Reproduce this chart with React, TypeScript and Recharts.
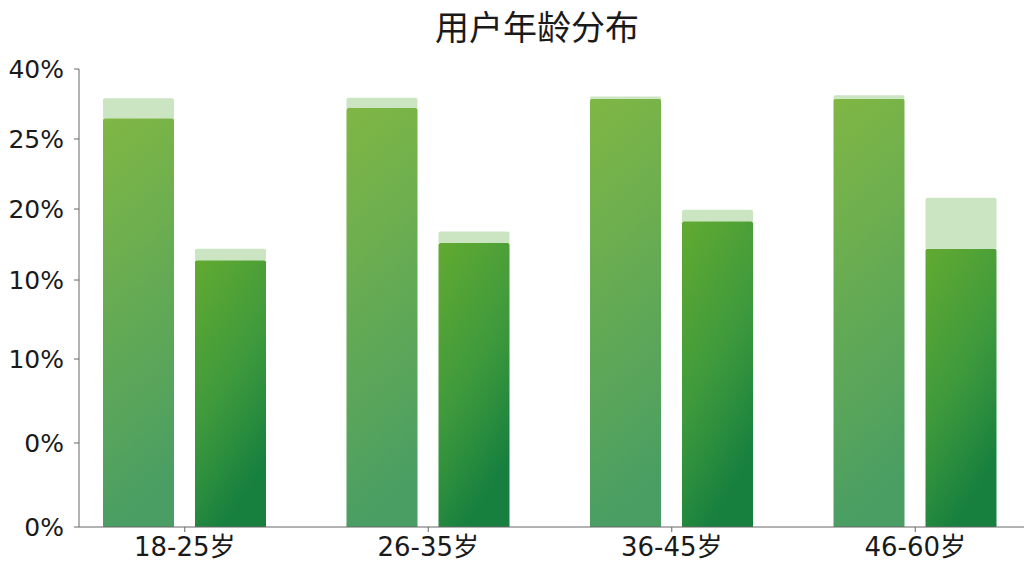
import { BarChart, Bar, XAxis, YAxis } from "recharts";

document.body.style.margin = "0";

// values are in the axis's own linear units (0-40)
const ageGroups = ["18-25岁", "26-35岁", "36-45岁", "46-60岁"];
const firstBase = [35.7, 36.6, 37.4, 37.4];
const firstCap = [1.75, 0.9, 0.2, 0.3];
const secondBase = [23.3, 24.8, 26.7, 24.3];
const secondCap = [1.0, 1.0, 1.0, 4.45];

// the reference labels its y ticks unevenly, so positions and labels are kept apart
const yTickPos = [0, 7.34, 14.67, 21.57, 27.77, 33.89, 40];
const yTickLabels = ["0%", "0%", "10%", "10%", "20%", "25%", "40%"];

const data = ageGroups.map((name, i) => ({
  name,
  aBase: firstBase[i],
  aCap: firstCap[i],
  bBase: secondBase[i],
  bCap: secondCap[i],
}));

const font = '"DejaVu Sans", "Noto Sans CJK SC", sans-serif';

export default function App() {
  return (
    <div style={{ position: "relative", width: 1024, height: 576, background: "#fff" }}>
      <div
        style={{
          position: "absolute",
          top: 2,
          left: 0,
          width: 1074,
          textAlign: "center",
          fontFamily: '"Noto Sans CJK SC", sans-serif',
          fontSize: 34,
          lineHeight: "48px",
          color: "#1a1a1a",
        }}
      >
        用户年龄分布
      </div>
      <BarChart
        width={1024}
        height={576}
        data={data}
        margin={{ top: 69, right: 0, bottom: 0, left: 0 }}
        barGap={21}
        barSize={71}
      >
        <defs>
          <linearGradient id="gradA" x1="0" y1="0" x2="0.15" y2="1">
            <stop offset="0%" stopColor="#80b744" />
            <stop offset="100%" stopColor="#4a9e63" />
          </linearGradient>
          <linearGradient id="gradB" x1="0" y1="0" x2="0.4" y2="1">
            <stop offset="0%" stopColor="#62aa31" />
            <stop offset="55%" stopColor="#3f9a3c" />
            <stop offset="100%" stopColor="#17803f" />
          </linearGradient>
        </defs>
        <XAxis
          dataKey="name"
          height={49}
          padding={{ left: -16, right: -13 }}
          axisLine={{ stroke: "#666" }}
          tickLine={{ stroke: "#666" }}
          tickSize={5}
          tickMargin={6}
          tick={{ fill: "#1a1a1a", fontSize: 26, fontFamily: font }}
        />
        <YAxis
          type="number"
          width={79}
          domain={[0, 40]}
          ticks={yTickPos}
          interval={0}
          tickFormatter={(_v: number, i: number) => yTickLabels[i]}
          axisLine={{ stroke: "#666" }}
          tickLine={{ stroke: "#666" }}
          tickSize={5}
          tickMargin={10}
          tick={{ fill: "#1a1a1a", fontSize: 25, fontFamily: font }}
        />
        <Bar dataKey="aBase" stackId="a" fill="url(#gradA)" radius={[2, 2, 0, 0]} isAnimationActive={false} />
        <Bar dataKey="aCap" stackId="a" fill="#cbe5c3" radius={[2, 2, 0, 0]} isAnimationActive={false} />
        <Bar dataKey="bBase" stackId="b" fill="url(#gradB)" radius={[2, 2, 0, 0]} isAnimationActive={false} />
        <Bar dataKey="bCap" stackId="b" fill="#cbe5c3" radius={[2, 2, 0, 0]} isAnimationActive={false} />
      </BarChart>
    </div>
  );
}
